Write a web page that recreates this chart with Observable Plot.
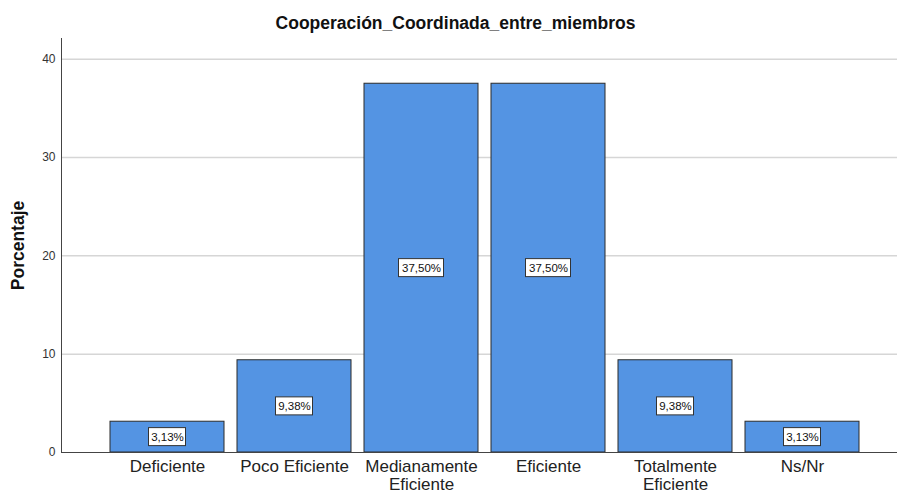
<!DOCTYPE html>
<html><head><meta charset="utf-8">
<script src="https://cdn.jsdelivr.net/npm/d3@7"></script>
<script src="https://cdn.jsdelivr.net/npm/@observablehq/plot@0.6"></script>
<style>body{margin:0;background:#fff;font-family:"Liberation Sans",Arial,sans-serif}</style>
</head><body><div id="chart"></div>
<script>
const title = "Cooperación_Coordinada_entre_miembros";
const yLabel = "Porcentaje";
const categories = ["Deficiente","Poco Eficiente","Medianamente\nEficiente","Eficiente","Totalmente\nEficiente","Ns/Nr"];
const percentages = [3.13, 9.38, 37.50, 37.50, 9.38, 3.13];
const valueLabels = ["3,13%","9,38%","37,50%","37,50%","9,38%","3,13%"];
const yTicks = [0, 10, 20, 30, 40];

const data = categories.map((c, i) => ({category: c, value: percentages[i], label: valueLabels[i]}));
const font = "Liberation Sans, Arial, sans-serif";

const boxMark = (subset, half) => Plot.barY(subset, {
  x: "category", y1: d => d.value / 2, y2: d => d.value / 2,
  insetLeft: 57 - half, insetRight: 57 - half, insetTop: -9, insetBottom: -9,
  fill: "white", stroke: "#333", strokeWidth: 1
});

const chart = Plot.plot({
  width: 898, height: 493,
  marginTop: 38, marginBottom: 41, marginLeft: 61, marginRight: 1,
  style: {fontFamily: font, background: "#fff", overflow: "visible"},
  x: {domain: categories, range: [103.5, 865.5], paddingInner: 0.1, paddingOuter: 0.05, align: 0.5, label: null},
  y: {domain: [0, 42.1], label: null},
  marks: [
    Plot.ruleY(yTicks.filter(d => d > 0), {stroke: "#d6d6d6", strokeWidth: 1.5}),
    Plot.barY(data, {x: "category", y: "value", fill: "#5494e3", stroke: "#2b2b2b", strokeWidth: 1}),
    boxMark(data.filter(d => d.label.length === 6), 22.5),
    boxMark(data.filter(d => d.label.length === 5), 18.5),
    Plot.text(data, {x: "category", y: d => d.value / 2, text: "label", fontSize: 11.5, fill: "#111"}),
    Plot.axisY(yTicks, {tickSize: 0, tickPadding: 6, fontSize: 12, fill: "#333", label: null}),
    Plot.axisX({tickSize: 0, tickPadding: 7, fontSize: 17, lineHeight: 1.04, fill: "#222", label: null}),
    Plot.frame({anchor: "left", stroke: "#444"}),
    Plot.ruleY([0], {stroke: "#444"}),
    Plot.text([title], {frameAnchor: "top", dx: -24, dy: -15, fontSize: 17.5, fontWeight: "bold", fill: "#111", lineAnchor: "middle"}),
    Plot.text([yLabel], {frameAnchor: "left", dx: -43, rotate: -90, textAnchor: "middle", fontSize: 17.5, fontWeight: "bold", fill: "#111"})
  ]
});
document.getElementById("chart").appendChild(chart);
</script>
</body></html>
